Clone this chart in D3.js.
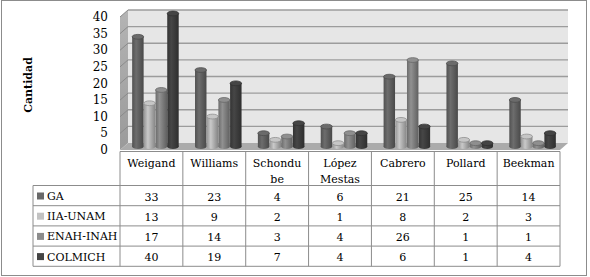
<!DOCTYPE html>
<html>
<head>
<meta charset="utf-8">
<script src="https://cdn.jsdelivr.net/npm/d3@7"></script>
<style>
  body { margin: 0; background: #fff; }
  text { font-family: "DejaVu Serif", serif; font-size: 11px; fill: #000; }
</style>
</head>
<body>
<div id="chart"></div>
<script>
// data
const categories = ["Weigand", "Williams", "Schondube", "López Mestas", "Cabrero", "Pollard", "Beekman"]
const seriesNames = ["GA", "IIA-UNAM", "ENAH-INAH", "COLMICH"]
const GA = [33, 23, 4, 6, 21, 25, 14]
const IIA_UNAM = [13, 9, 2, 1, 8, 2, 3]
const ENAH_INAH = [17, 14, 3, 4, 26, 1, 1]
const COLMICH = [40, 19, 7, 4, 6, 1, 4]
const yTicks = [0, 5, 10, 15, 20, 25, 30, 35, 40]

const series = [GA, IIA_UNAM, ENAH_INAH, COLMICH]
const colors = ["#646464", "#b8b8b8", "#858585", "#404040"]

const width = 590, height = 277
const dx = 8, dy = -7   // 3d depth offset

const svg = d3.select("#chart").append("svg")
    .attr("width", width)
    .attr("height", height)

// outer frame
svg.append("rect")
    .attr("x", 1.5).attr("y", 0.5)
    .attr("width", 585).attr("height", 275)
    .attr("fill", "none").attr("stroke", "#8c8c8c")

const x = d3.scaleBand().domain(categories).range([120, 560])
const y = d3.scaleLinear().domain([0, 40]).range([150, 17])

const defs = svg.append("defs")
colors.forEach((c, i) => {
    const g = defs.append("linearGradient").attr("id", "cyl" + i)
    const base = d3.color(c)
    g.append("stop").attr("offset", "0%").attr("stop-color", base.darker(0.6))
    g.append("stop").attr("offset", "35%").attr("stop-color", base.brighter(0.25))
    g.append("stop").attr("offset", "100%").attr("stop-color", base.darker(0.9))
})
const sideGrad = defs.append("linearGradient").attr("id", "side")
    .attr("x1", 0).attr("y1", 0).attr("x2", 0).attr("y2", 1)
sideGrad.append("stop").attr("offset", "0%").attr("stop-color", "#b4b4b4")
sideGrad.append("stop").attr("offset", "100%").attr("stop-color", "#9a9a9a")

const x0 = x.range()[0], x1 = x.range()[1]

// back wall
svg.append("rect")
    .attr("x", x0 + dx).attr("y", y(40) + dy)
    .attr("width", x1 - x0).attr("height", y(0) - y(40))
    .attr("fill", "#e6e6e6")

// gridlines on back wall + side wall
svg.selectAll(".grid")
    .data(yTicks.filter(d => d > 0))
    .enter().append("line")
    .attr("x1", x0 + dx).attr("x2", x1 + dx)
    .attr("y1", d => y(d) + dy).attr("y2", d => y(d) + dy)
    .attr("stroke", "#9c9c9c").attr("stroke-width", 1.3)

// left side wall
svg.append("path")
    .attr("d", `M${x0},${y(40)} L${x0 + dx},${y(40) + dy} L${x0 + dx},${y(0) + dy} L${x0},${y(0)} Z`)
    .attr("fill", "url(#side)")
svg.selectAll(".sgrid")
    .data(yTicks.filter(d => d > 0))
    .enter().append("line")
    .attr("x1", x0).attr("x2", x0 + dx)
    .attr("y1", d => y(d)).attr("y2", d => y(d) + dy)
    .attr("stroke", "#8a8a8a")

// floor
svg.append("path")
    .attr("d", `M${x0},${y(0)} L${x0 + dx},${y(0) + dy} L${x1 + dx},${y(0) + dy} L${x1},${y(0)} Z`)
    .attr("fill", "#ababab")

// y axis labels
svg.selectAll(".ytick")
    .data(yTicks)
    .enter().append("text")
    .attr("x", 108)
    .attr("y", d => y(d) + 4)
    .attr("text-anchor", "end")
    .style("font-size", "12px")
    .text(d => d)

svg.append("text")
    .attr("transform", "translate(32,85) rotate(-90)")
    .attr("text-anchor", "middle")
    .style("font-weight", "bold")
    .text("Cantidad")

// bars as cylinders, placed at mid depth
const inner = d3.scaleBand().domain(d3.range(series.length))
    .range([0, 47]).padding(0.02)
const pad = (x.bandwidth() - 47) / 2
const rx = inner.bandwidth() / 2, ry = 2.4

series.forEach((vals, si) => {
    const g = svg.append("g").attr("class", "bars")
    const items = g.selectAll("g")
        .data(vals.map((v, ci) => ({ v, c: categories[ci] })))
        .enter().append("g")
        .attr("transform", d => `translate(${x(d.c) + pad + inner(si) + dx / 2}, ${dy / 2})`)
    items.append("rect")
        .attr("x", 0).attr("width", inner.bandwidth())
        .attr("y", d => y(d.v)).attr("height", d => y(0) - y(d.v))
        .attr("fill", `url(#cyl${si})`)
    items.append("ellipse")
        .attr("cx", rx).attr("cy", y(0)).attr("rx", rx).attr("ry", ry)
        .attr("fill", `url(#cyl${si})`)
    items.append("ellipse")
        .attr("cx", rx).attr("cy", d => y(d.v)).attr("rx", rx).attr("ry", ry)
        .attr("fill", d3.color(colors[si]).brighter(0.2))
        .attr("stroke", d3.color(colors[si]).darker(0.7)).attr("stroke-width", 0.8)
})

// data table
const tableLeft = 33, headTop = 151.5, headH = 34, rowH = 20.2
const tableRight = x1
const tbl = svg.append("g").attr("class", "table")
const lineColor = "#8c8c8c"

// horizontal lines
const rowYs = d3.range(series.length + 1).map(i => headTop + headH + i * rowH)
tbl.selectAll(".hline")
    .data(rowYs)
    .enter().append("line")
    .attr("x1", tableLeft).attr("x2", tableRight)
    .attr("y1", d => d).attr("y2", d => d)
    .attr("stroke", lineColor)
tbl.append("line")
    .attr("x1", x0).attr("x2", x1).attr("y1", headTop).attr("y2", headTop)
    .attr("stroke", lineColor)
// vertical lines
tbl.selectAll(".vline")
    .data(categories.map(c => x(c)).concat([x1]))
    .enter().append("line")
    .attr("x1", d => d).attr("x2", d => d)
    .attr("y1", headTop).attr("y2", rowYs[rowYs.length - 1])
    .attr("stroke", lineColor)
tbl.append("line")
    .attr("x1", tableLeft).attr("x2", tableLeft)
    .attr("y1", rowYs[0]).attr("y2", rowYs[rowYs.length - 1])
    .attr("stroke", lineColor)

// header labels, wrapped to the column width
const head = tbl.selectAll(".head")
    .data(categories)
    .enter().append("text")
    .attr("x", d => x(d) + x.bandwidth() / 2)
    .attr("y", headTop + 15)
    .attr("text-anchor", "middle")
head.each(function (d) {
    const el = d3.select(this)
    const maxW = 53
    let lines = []
    d.split(" ").forEach(word => {
        let cur = ""
        for (const ch of word) {
            const test = cur + ch
            el.text(test)
            if (this.getComputedTextLength() > maxW && cur) { lines.push(cur); cur = ch }
            else cur = test
        }
        lines.push(cur)
    })
    el.text(null)
    lines.forEach((l, i) => {
        el.append("tspan")
            .attr("x", x(d) + x.bandwidth() / 2)
            .attr("dy", i ? 16 : 0)
            .text(l)
    })
})

// legend column + values
series.forEach((vals, si) => {
    const ry0 = rowYs[si]
    tbl.append("rect")
        .attr("x", tableLeft + 4).attr("y", ry0 + 7)
        .attr("width", 7).attr("height", 7)
        .attr("fill", d3.color(colors[si]).brighter(0.15))
    tbl.append("text")
        .attr("x", tableLeft + 14).attr("y", ry0 + 14.5)
        .text(seriesNames[si])
    tbl.selectAll(".val" + si)
        .data(vals)
        .enter().append("text")
        .attr("x", (d, ci) => x(categories[ci]) + x.bandwidth() / 2)
        .attr("y", ry0 + 15)
        .attr("text-anchor", "middle")
        .text(d => d)
})
</script>
</body>
</html>
